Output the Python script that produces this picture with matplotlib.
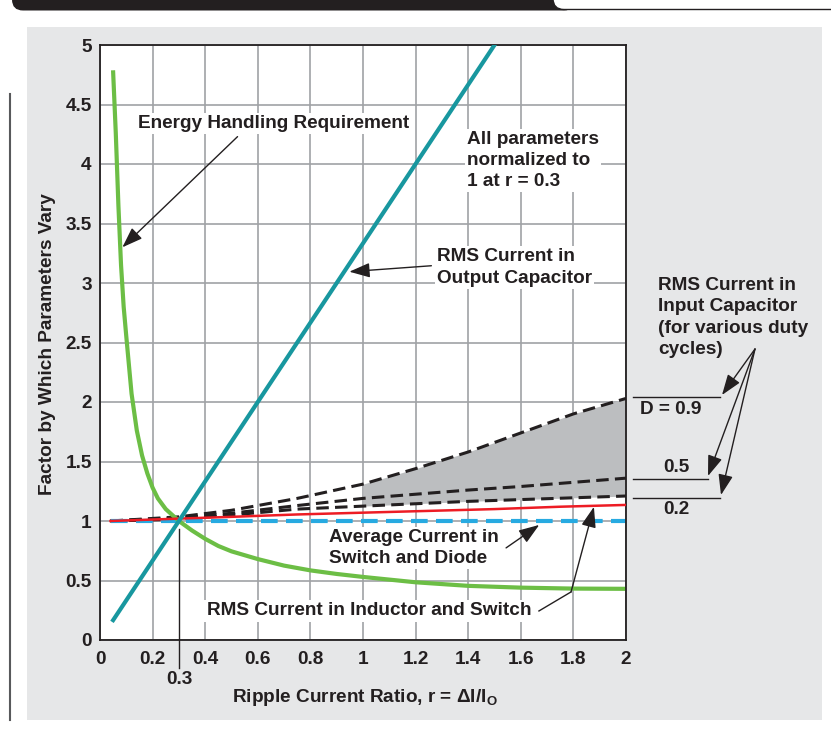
import matplotlib
matplotlib.use("Agg")
import matplotlib.pyplot as plt
from matplotlib.patches import FancyBboxPatch, Rectangle

plt.rcParams['font.family'] = ['Liberation Sans', 'DejaVu Sans']
plt.rcParams['font.weight'] = 'bold'
plt.rcParams['mathtext.fontset'] = 'custom'
plt.rcParams['mathtext.rm'] = 'Liberation Sans:bold'
plt.rcParams['lines.scale_dashes'] = False

# values
r_energy = [0.05, 0.06, 0.07, 0.08, 0.09, 0.10, 0.12, 0.14, 0.16, 0.18, 0.20, 0.22,
            0.25, 0.30, 0.35, 0.40, 0.45, 0.50, 0.60, 0.70, 0.80, 0.90, 1.00, 1.20,
            1.40, 1.60, 1.80, 2.00]
energy = [4.77, 4.26, 3.65, 3.15, 2.80, 2.55, 2.07, 1.76, 1.55, 1.40, 1.28, 1.19,
          1.10, 1.00, 0.92, 0.85, 0.79, 0.745, 0.68, 0.625, 0.585, 0.555, 0.53, 0.485,
          0.455, 0.44, 0.432, 0.43]

r_outcap = [0.05, 1.5]
outcap = [0.167, 5.0]

r_ind = [0.04, 0.3, 0.5, 0.75, 1.0, 1.25, 1.5, 1.75, 2.0]
ind_sw = [1.0, 1.02, 1.035, 1.055, 1.07, 1.085, 1.10, 1.12, 1.135]

r_avg = [0.04, 2.0]
avg_sw = [1.0, 1.0]

r_incap = [0.04, 0.3, 0.5, 0.75, 1.0, 1.2, 1.4, 1.6, 1.8, 2.0]
incap_09 = [1.0, 1.035, 1.09, 1.19, 1.31, 1.44, 1.58, 1.74, 1.90, 2.03]
incap_05 = [1.0, 1.025, 1.065, 1.13, 1.19, 1.225, 1.26, 1.29, 1.325, 1.36]
incap_02 = [1.0, 1.015, 1.05, 1.10, 1.125, 1.145, 1.165, 1.18, 1.195, 1.21]
shade_from = 1.0

xticks = [0, 0.2, 0.4, 0.6, 0.8, 1.0, 1.2, 1.4, 1.6, 1.8, 2.0]
xtick_labels = ['0', '0.2', '0.4', '0.6', '0.8', '1', '1.2', '1.4', '1.6', '1.8', '2']
yticks = [0, 0.5, 1, 1.5, 2, 2.5, 3, 3.5, 4, 4.5, 5]
ytick_labels = ['0', '0.5', '1', '1.5', '2', '2.5', '3', '3.5', '4', '4.5', '5']

FS = 13.7
LS = 1.33
INK = '#231f20'
W, H = 831, 731

fig = plt.figure(figsize=(W / 100, H / 100), dpi=100)

# page decoration, pixel coordinates
bg = fig.add_axes([0, 0, 1, 1], zorder=0)
bg.set_xlim(0, W)
bg.set_ylim(H, 0)
bg.axis('off')
bg.add_patch(Rectangle((27, 27), 795, 693, facecolor='#e6e7e8', edgecolor='none'))
bg.add_patch(FancyBboxPatch((12, -30), 563, 40.5, boxstyle='round,pad=0,rounding_size=11',
                            fc=INK, ec='none'))
bg.add_patch(FancyBboxPatch((553, -30), 400, 39.5, boxstyle='round,pad=0,rounding_size=11',
                            fc='white', ec=INK, lw=1))
bg.plot([10, 10], [94, 720], color='#58595b', lw=1.5)

ax = fig.add_axes([100 / W, 1 - 640 / H, 526 / W, 595 / H], zorder=1)
ax.set_xlim(0, 2)
ax.set_ylim(0, 5)
ax.set_xticks(xticks)
ax.set_xticklabels(xtick_labels)
ax.set_yticks(yticks)
ax.set_yticklabels(ytick_labels)
ax.grid(color='#a0a2a5', lw=1.2)
ax.set_axisbelow(True)
ax.tick_params(length=0, labelsize=FS, colors=INK)
ax.tick_params(axis='x', pad=8)
ax.tick_params(axis='y', pad=6)
for s in ax.spines.values():
    s.set_linewidth(1.3)
    s.set_color(INK)

# curves
ax.fill_between(r_incap, incap_02, incap_09, where=[r >= shade_from for r in r_incap],
                color='#bcbec0', lw=0, zorder=1.5)
for vals in (incap_09, incap_05, incap_02):
    ax.plot(r_incap, vals, color=INK, lw=2.2, dashes=(9, 4.5), zorder=2)
ax.plot(r_avg, avg_sw, color='#27aae1', lw=3.0, dashes=(12, 6), zorder=2.2)
ax.plot(r_energy, energy, color='#6cbe45', lw=3.0, zorder=2.4)
ax.plot(r_ind, ind_sw, color='#ed1c24', lw=1.8, zorder=2.6)
ax.plot(r_outcap, outcap, color='#18979f', lw=3.0, zorder=2.8)

# labels inside the plot
box = dict(facecolor='white', edgecolor='none', pad=1.5)
arr = dict(arrowstyle='-|>,head_length=0.7,head_width=0.25', color=INK, lw=1.0,
           shrinkA=0, shrinkB=0, mutation_scale=18)

ax.text(0.146, 4.34, 'Energy Handling Requirement', fontsize=FS, va='center',
        bbox=box, zorder=4, color=INK)
ax.annotate('', xy=(0.085, 3.30), xytext=(0.523, 4.23), arrowprops=arr, zorder=4)

ax.text(1.396, 4.03, 'All parameters\nnormalized to\n1 at r = 0.3', fontsize=FS,
        va='center', linespacing=LS, bbox=box, zorder=4, color=INK)

ax.text(1.282, 3.13, 'RMS Current in\nOutput Capacitor', fontsize=FS, va='center',
        linespacing=LS, bbox=box, zorder=4, color=INK)
ax.annotate('', xy=(0.948, 3.095), xytext=(1.26, 3.145), arrowprops=arr, zorder=4)

ax.text(0.872, 0.774, 'Average Current in\nSwitch and Diode', fontsize=FS, va='center',
        linespacing=LS, bbox=box, zorder=4, color=INK)
ax.annotate('', xy=(1.67, 0.967), xytext=(1.544, 0.774), arrowprops=arr, zorder=4)

ax.text(1.639, 0.244, 'RMS Current in Inductor and Switch', fontsize=FS, ha='right',
        va='center', bbox=box, zorder=4, color=INK)
ax.plot([1.669, 1.791], [0.244, 0.404], color=INK, lw=1.0, zorder=4)
ax.annotate('', xy=(1.878, 1.119), xytext=(1.791, 0.404), arrowprops=arr, zorder=4)

# r = 0.3 marker below the axis
ax.plot([0.3, 0.3], [0.93, -0.235], color=INK, lw=1.0, clip_on=False, zorder=4)
ax.text(0.3, -0.33, '0.3', fontsize=FS, ha='center', va='center', color=INK)

# input capacitor callout, right of the plot
bg.text(658, 317.5, 'RMS Current in\nInput Capacitor\n(for various duty\ncycles)',
        fontsize=FS, va='center', linespacing=LS, color=INK)
for tip in [(722, 395), (708, 476), (721, 495)]:
    bg.annotate('', xy=tip, xytext=(755, 349), arrowprops=arr)
bg.plot([633, 720], [397, 397], color=INK, lw=1.0)
bg.plot([633, 708], [479, 479], color=INK, lw=1.0)
bg.plot([633, 720], [498, 498], color=INK, lw=1.0)
bg.text(640, 409, 'D = 0.9', fontsize=FS, va='center', color=INK)
bg.text(663, 468, '0.5', fontsize=FS, va='center', color=INK)
bg.text(663, 510, '0.2', fontsize=FS, va='center', color=INK)

# axis titles
bg.text(365, 697, 'Ripple Current Ratio, r = \u0394I/I$_{\\mathrm{O}}$', fontsize=FS,
        ha='center', va='center', color=INK)
bg.text(48, 344, 'Factor by Which Parameters Vary', fontsize=FS, rotation=90,
        ha='center', va='center', color=INK)

fig.savefig('out.png', dpi=100)
